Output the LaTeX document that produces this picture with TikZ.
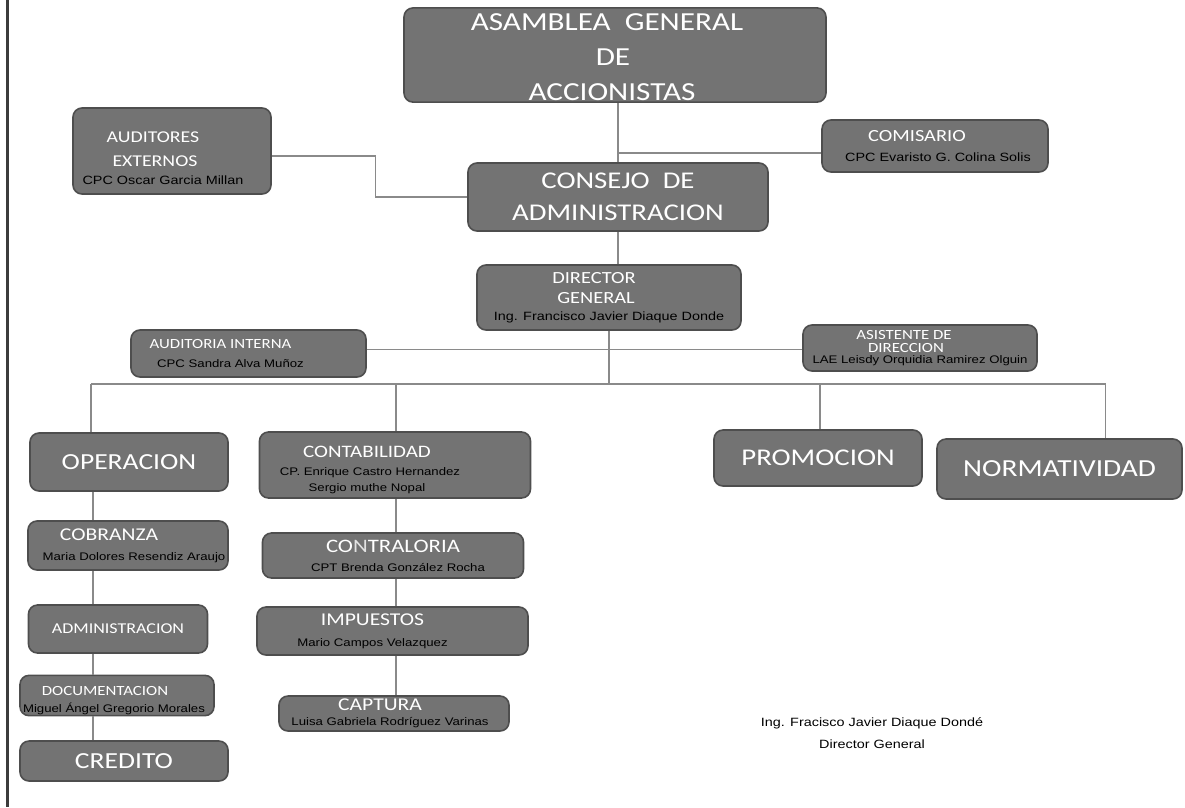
\documentclass[tikz,border=0pt]{standalone}
\usepackage{fontspec}
\setmainfont{Carlito}[FakeStretch=1.2]
\newfontfamily\arial{Liberation Sans}[FakeStretch=1.2]
\usetikzlibrary{positioning}

\definecolor{relleno}{HTML}{737373}
\definecolor{borde}{HTML}{4E4E4E}
\definecolor{conector}{HTML}{8A8A8A}
\definecolor{marco}{HTML}{3C3C3C}

\newcommand{\nom}[2][11]{{\arial\fontsize{#1}{13}\selectfont\color{black}#2}}
\newcommand{\tam}[1]{\fontsize{#1}{28}\selectfont}
% linea de texto corrida #1 pt a la derecha
\newcommand{\lin}[2]{\makebox[0pt]{\hspace*{#1pt}\hspace*{#1pt}#2}}

\begin{document}
\begin{tikzpicture}[x = 1pt, y = -1pt,
    caja/.style = {draw = borde, fill = relleno, rounded corners = 9pt, line width = 1.6pt, align = center, text = white, inner sep = 1pt},
    linea/.style = {draw = conector, line width = 1.1pt}]
            \useasboundingbox (0,0) rectangle (1185,807);
            \draw[marco, line width = 3pt] (7,0) -- (7,807);

            \node[caja, minimum width = 422, minimum height = 94, font = \fontsize{26}{35}\selectfont] (asamblea) at (615,55) {\rule{0pt}{22pt}\lin{-8}{ASAMBLEA\ \ GENERAL}\\\lin{-2}{DE}\\\lin{-3}{ACCIONISTAS}};
            \node[caja, minimum width = 198, minimum height = 86, font = \fontsize{16.5}{24}\selectfont] (auditores) at (172,151) {\rule{0pt}{25pt}\lin{-19}{AUDITORES}\\\lin{-17}{EXTERNOS}\\[-6pt]\lin{-9}{\nom[12]{CPC Oscar Garcia Millan}}};
            \node[caja, minimum width = 226, minimum height = 52, font = \fontsize{17}{20}\selectfont] (comisario) at (935,146) {\lin{-18}{COMISARIO}\\\lin{3}{\nom[12]{CPC Evaristo G. Colina Solis}}};
            \node[caja, minimum width = 300, minimum height = 68, font = \fontsize{24}{32}\selectfont] (consejo) at (618,197) {CONSEJO\ \ DE\\ADMINISTRACION};
            \node[caja, minimum width = 264, minimum height = 65, font = \fontsize{17}{20}\selectfont] (director) at (609,297.5) {\lin{-15}{DIRECTOR}\\\lin{-13}{GENERAL}\\[-3pt]\nom[12]{Ing. Francisco Javier Diaque Donde}};
            \node[caja, minimum width = 235, minimum height = 47, font = \fontsize{14}{19}\selectfont] (audint) at (248.5,353.5) {\lin{-28}{AUDITORIA INTERNA}\\\lin{-18}{\nom{CPC Sandra Alva Muñoz}}};
            \node[caja, minimum width = 234, minimum height = 46, font = \fontsize{14}{13}\selectfont] (asistente) at (920,348) {\lin{-16}{ASISTENTE DE}\\\lin{-14}{DIRECCION}\\[-2pt]\nom{LAE Leisdy Orquidia Ramirez Olguin}};

            \node[caja, minimum width = 198, minimum height = 58, font = \tam{23}] (operacion) at (129,462) {OPERACION};
            \node[caja, minimum width = 271, minimum height = 66, font = \fontsize{17.5}{18}\selectfont] (contabilidad) at (395,465) {\rule{0pt}{21pt}\lin{-28}{CONTABILIDAD}\\\lin{-25}{\nom{CP. Enrique Castro Hernandez}}\\[-2pt]\lin{-28}{\nom{Sergio muthe Nopal}}};
            \node[caja, minimum width = 208, minimum height = 56, font = \tam{24}] (promocion) at (818,458) {PROMOCION};
            \node[caja, minimum width = 245, minimum height = 60, font = \tam{24.5}] (normatividad) at (1059.5,469) {NORMATIVIDAD};

            \node[caja, minimum width = 200, minimum height = 49, font = \fontsize{18}{20}\selectfont] (cobranza) at (128,545.5) {\lin{-19}{COBRANZA}\\\lin{6}{\nom{Maria Dolores Resendiz Araujo}}};
            \node[caja, minimum width = 179, minimum height = 48, font = \tam{15}] (administracion) at (118,629) {ADMINISTRACION};
            \node[caja, minimum width = 194, minimum height = 39, font = \fontsize{14}{17}\selectfont] (documentacion) at (117,695.5) {\rule{0pt}{19pt}\lin{-12}{DOCUMENTACION}\\\lin{-3}{\nom{Miguel Ángel Gregorio Morales}}};
            \node[caja, minimum width = 208, minimum height = 40, font = \tam{23}] (credito) at (124,761) {CREDITO};

            \node[caja, minimum width = 261, minimum height = 45, font = \fontsize{19}{19}\selectfont] (contraloria) at (393,555.5) {CO{\color{white!80!relleno}N}TRALORIA\\\lin{5}{\nom{CPT Brenda González Rocha}}};
            \node[caja, minimum width = 271, minimum height = 48, font = \fontsize{18}{21}\selectfont] (impuestos) at (392.5,631) {\lin{-20}{IMPUESTOS}\\\lin{-20}{\nom{Mario Campos Velazquez}}};
            \node[caja, minimum width = 230, minimum height = 35, font = \fontsize{18}{15}\selectfont] (captura) at (394,713.5) {\lin{-14}{CAPTURA}\\\lin{-4}{\nom{Luisa Gabriela Rodríguez Varinas}}};

            \node[align = center, font = \arial\fontsize{12}{22}\selectfont] (firma) at (872,733) {Ing. Fracisco Javier Diaque Dondé\\Director General};

            \coordinate (bus) at (610,384);
            \coordinate (izq) at (93,0);
            \coordinate (centro) at (396,0);

            \draw[linea] (consejo.north) -- (consejo.north |- asamblea.south);
            \draw[linea] ([yshift = -7pt]comisario.west) -- ([yshift = -7pt]comisario.west -| consejo.north);
            \draw[linea] ([yshift = -5pt]auditores.east) -- ++(104,0) |- (consejo.west);
            \draw[linea] (consejo.south) -- (consejo.south |- director.north);
            \draw[linea] (director.south) -- (director.south |- bus);
            \draw[linea] ([yshift = 4pt]audint.east) -- ([yshift = 4pt]audint.east -| asistente.west);
            \draw[linea] ([xshift = -38pt]operacion.north |- bus) -- ([xshift = 46pt]normatividad.north |- bus);
            \foreach \n/\d in {operacion/-38, contabilidad/1, promocion/2, normatividad/46}
                \draw[linea] ([xshift = \d pt]\n.north) -- ([xshift = \d pt]\n.north |- bus);
            \foreach \a/\b in {operacion/cobranza, cobranza/administracion, administracion/documentacion, documentacion/credito}
                \draw[linea] (izq |- \a.south) -- (izq |- \b.north);
            \foreach \a/\b in {contabilidad/contraloria, contraloria/impuestos, impuestos/captura}
                \draw[linea] (centro |- \a.south) -- (centro |- \b.north);
        \end{tikzpicture}
\end{document}
